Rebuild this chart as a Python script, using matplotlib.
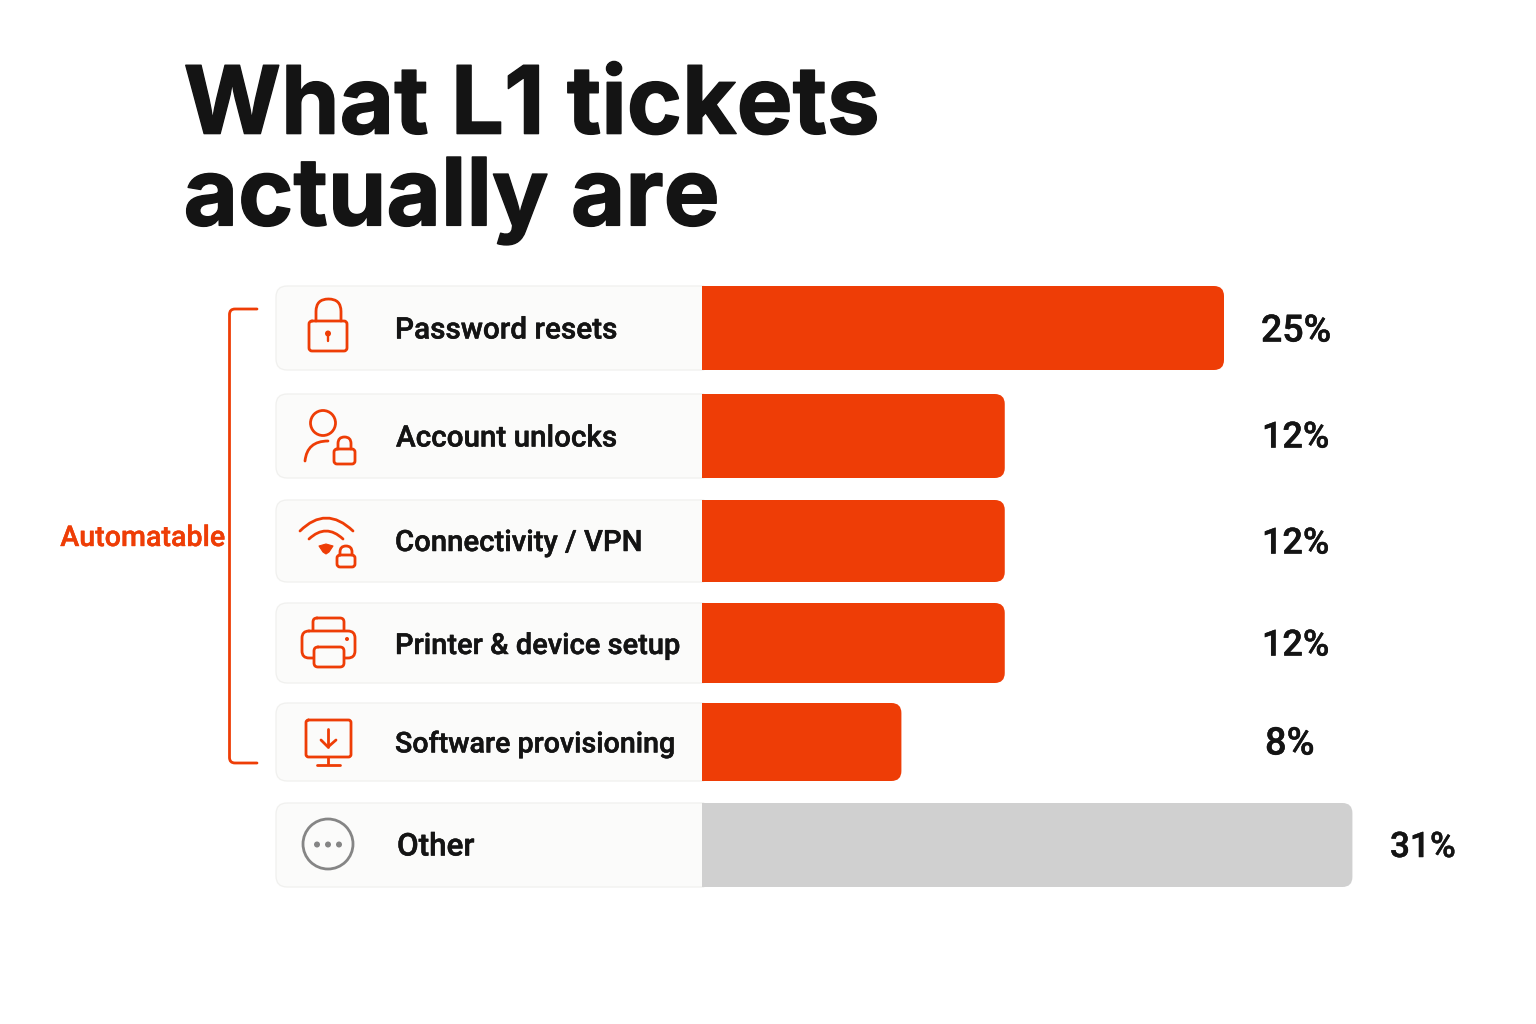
import matplotlib
matplotlib.use("Agg")
import matplotlib.pyplot as plt
from matplotlib.path import Path
from matplotlib.patches import PathPatch, Circle, Polygon
import matplotlib.patheffects as pe

# ---- data ----
title = "What L1 tickets\nactually are"
categories = ["Password resets", "Account unlocks", "Connectivity / VPN",
              "Printer & device setup", "Software provisioning", "Other"]
value_labels = ["25%", "12%", "12%", "12%", "8%", "31%"]
# lengths of the bars as drawn (the picture is not proportional to its labels)
drawn_lengths = [25.0, 14.5, 14.5, 14.5, 9.55, 31.15]
group_label = "Automatable"

# ---- layout ----
row_top = [286, 394, 500, 603, 703, 803]
row_bot = [370, 478, 582, 683, 781, 887]
label_x = [395, 396, 395, 395, 395, 397]
label_y = [327.5, 435.5, 540, 643, 741, 844]
label_size = [21.4, 21.3, 21.1, 20.9, 20.6, 22.6]
val_x = [1261, 1262, 1262, 1262, 1265, 1390]
val_y = [328, 435, 541, 643, 741, 845]
val_size = [27.0, 25.9, 25.9, 25.9, 27.4, 25.3]
CARD_L, BAR_L, PX_PER_UNIT = 276, 702, 20.88
ORANGE, GREY, ICON_GREY = "#EE3D06", "#D0D0D0", "#858585"
CARD_FC, CARD_EC, INK = "#FBFBFA", "#F0F0EE", "#141414"
LINE_TXT = "Roboto"
BOLDEN = [pe.withStroke(linewidth=0.35, foreground=INK)]
ICON_LW = 2.0

fig = plt.figure(figsize=(15.36, 10.24), dpi=100, facecolor="white")
ax = fig.add_axes([0, 0, 1, 1])
ax.set_xlim(0, 1536)
ax.set_ylim(1024, 0)
ax.axis("off")

M, L, C = Path.MOVETO, Path.LINETO, Path.CURVE3


def rrect(x0, y0, x1, y1, r, left=True, right=True):
    rl = r if left else 0
    rr = r if right else 0
    v = [(x0 + rl, y0), (x1 - rr, y0), (x1, y0), (x1, y0 + rr), (x1, y1 - rr),
         (x1, y1), (x1 - rr, y1), (x0 + rl, y1), (x0, y1), (x0, y1 - rl),
         (x0, y0 + rl), (x0, y0), (x0 + rl, y0)]
    c = [M, L, C, C, L, C, C, L, C, C, L, C, C]
    return Path(v, c)


def stroke(path, color=ORANGE, lw=ICON_LW, fc="none", z=5):
    ax.add_patch(PathPatch(path, fc=fc, ec=color, lw=lw, capstyle="round",
                           joinstyle="round", zorder=z))


def mini_lock(x0, y0, x1, y1, sx0, sx1, top, lw=ICON_LW):
    stroke(rrect(x0, y0, x1, y1, 3), lw=lw)
    midx, k = (sx0 + sx1) / 2, (sx1 - sx0) / 2
    stroke(Path([(sx0, y0), (sx0, top + k), (sx0, top), (midx, top), (sx1, top),
                 (sx1, top + k), (sx1, y0)], [M, L, C, C, C, C, L]), lw=lw)


def icon_lock():
    mini_lock(309, 321, 347, 351, 316, 341, 299)
    ax.add_patch(Circle((328, 333.5), 3, fc=ORANGE, ec="none", zorder=5))
    stroke(Path([(328, 334), (328, 341)], [M, L]), lw=1.7)


def icon_user():
    ax.add_patch(Circle((323, 423), 12.5, fc="none", ec=ORANGE, lw=ICON_LW, zorder=5))
    stroke(Path([(305, 461), (307, 441), (328, 441)], [M, C, C]))
    mini_lock(334, 449, 355, 464, 338, 351, 437)


def icon_wifi():
    stroke(Path([(300, 531), (326, 505), (353, 531)], [M, C, C]))
    stroke(Path([(309, 539), (326, 523), (343, 539)], [M, C, C]))
    ax.add_patch(Polygon([(319, 546), (326, 544), (333, 546), (329, 552), (326, 554), (323, 552)],
                         closed=True, fc=ORANGE, ec=ORANGE, lw=0.8, joinstyle="round", zorder=5))
    mini_lock(337, 555, 355, 567, 340, 352, 546)


def icon_printer():
    stroke(rrect(313, 618, 344, 640, 4), z=4)
    stroke(rrect(302, 631, 355, 658, 7), fc=CARD_FC, z=5)
    stroke(rrect(314, 647, 344, 667, 4), fc=CARD_FC, z=6)
    ax.add_patch(Circle((347, 639), 2, fc=ORANGE, ec="none", zorder=6))


def icon_monitor():
    stroke(rrect(306, 720, 351, 757, 2.5))
    stroke(Path([(328, 757), (328, 764)], [M, L]))
    stroke(Path([(317, 764.5), (340, 764.5)], [M, L]))
    stroke(Path([(328, 729), (328, 747)], [M, L]))
    stroke(Path([(321, 740), (328, 747), (336, 740)], [M, L, L]))


def icon_other():
    ax.add_patch(Circle((328, 844), 25, fc="none", ec=ICON_GREY, lw=2.0, zorder=5))
    for x in (317, 328, 339):
        ax.add_patch(Circle((x, 844.5), 3, fc=ICON_GREY, ec="none", zorder=5))


icons = [icon_lock, icon_user, icon_wifi, icon_printer, icon_monitor, icon_other]

# cards, bars, labels
for i, cat in enumerate(categories):
    t, b = row_top[i], row_bot[i]
    ax.add_patch(PathPatch(rrect(CARD_L, t, BAR_L + 2, b, 11, right=False),
                           fc=CARD_FC, ec=CARD_EC, lw=0.9, zorder=1))
    colour = GREY if cat == "Other" else ORANGE
    right = BAR_L + drawn_lengths[i] * PX_PER_UNIT
    ax.add_patch(PathPatch(rrect(BAR_L, t, right, b, 10, left=False),
                           fc=colour, ec="none", zorder=2))
    ax.text(label_x[i], label_y[i], cat, fontsize=label_size[i], family=LINE_TXT, weight=500,
            color=INK, ha="left", va="center_baseline", zorder=6, path_effects=BOLDEN)
    ax.text(val_x[i], val_y[i] - 1, value_labels[i], fontsize=val_size[i], family=LINE_TXT, weight=500,
            color=INK, ha="left", va="center_baseline", zorder=6, path_effects=BOLDEN)
    icons[i]()

# bracket
stroke(Path([(257, 309), (235, 309), (229.5, 309), (229.5, 314.5), (229.5, 757.5),
             (229.5, 763), (235, 763), (257, 763)], [M, L, C, C, L, C, C, L]), lw=2.0)
ax.text(225, 535, group_label, fontsize=20.6, family=LINE_TXT, weight=500, color=ORANGE,
        ha="right", va="center_baseline", zorder=6,
        path_effects=[pe.withStroke(linewidth=0.3, foreground=ORANGE)])

# title
ax.text(183.5, 155, title, fontsize=67.7, family="Inter", weight="bold", color=INK,
        ha="left", va="center", linespacing=1.07, zorder=6,
        path_effects=[pe.withStroke(linewidth=1.0, foreground=INK)])

fig.savefig("out.png", dpi=100, facecolor="white")
